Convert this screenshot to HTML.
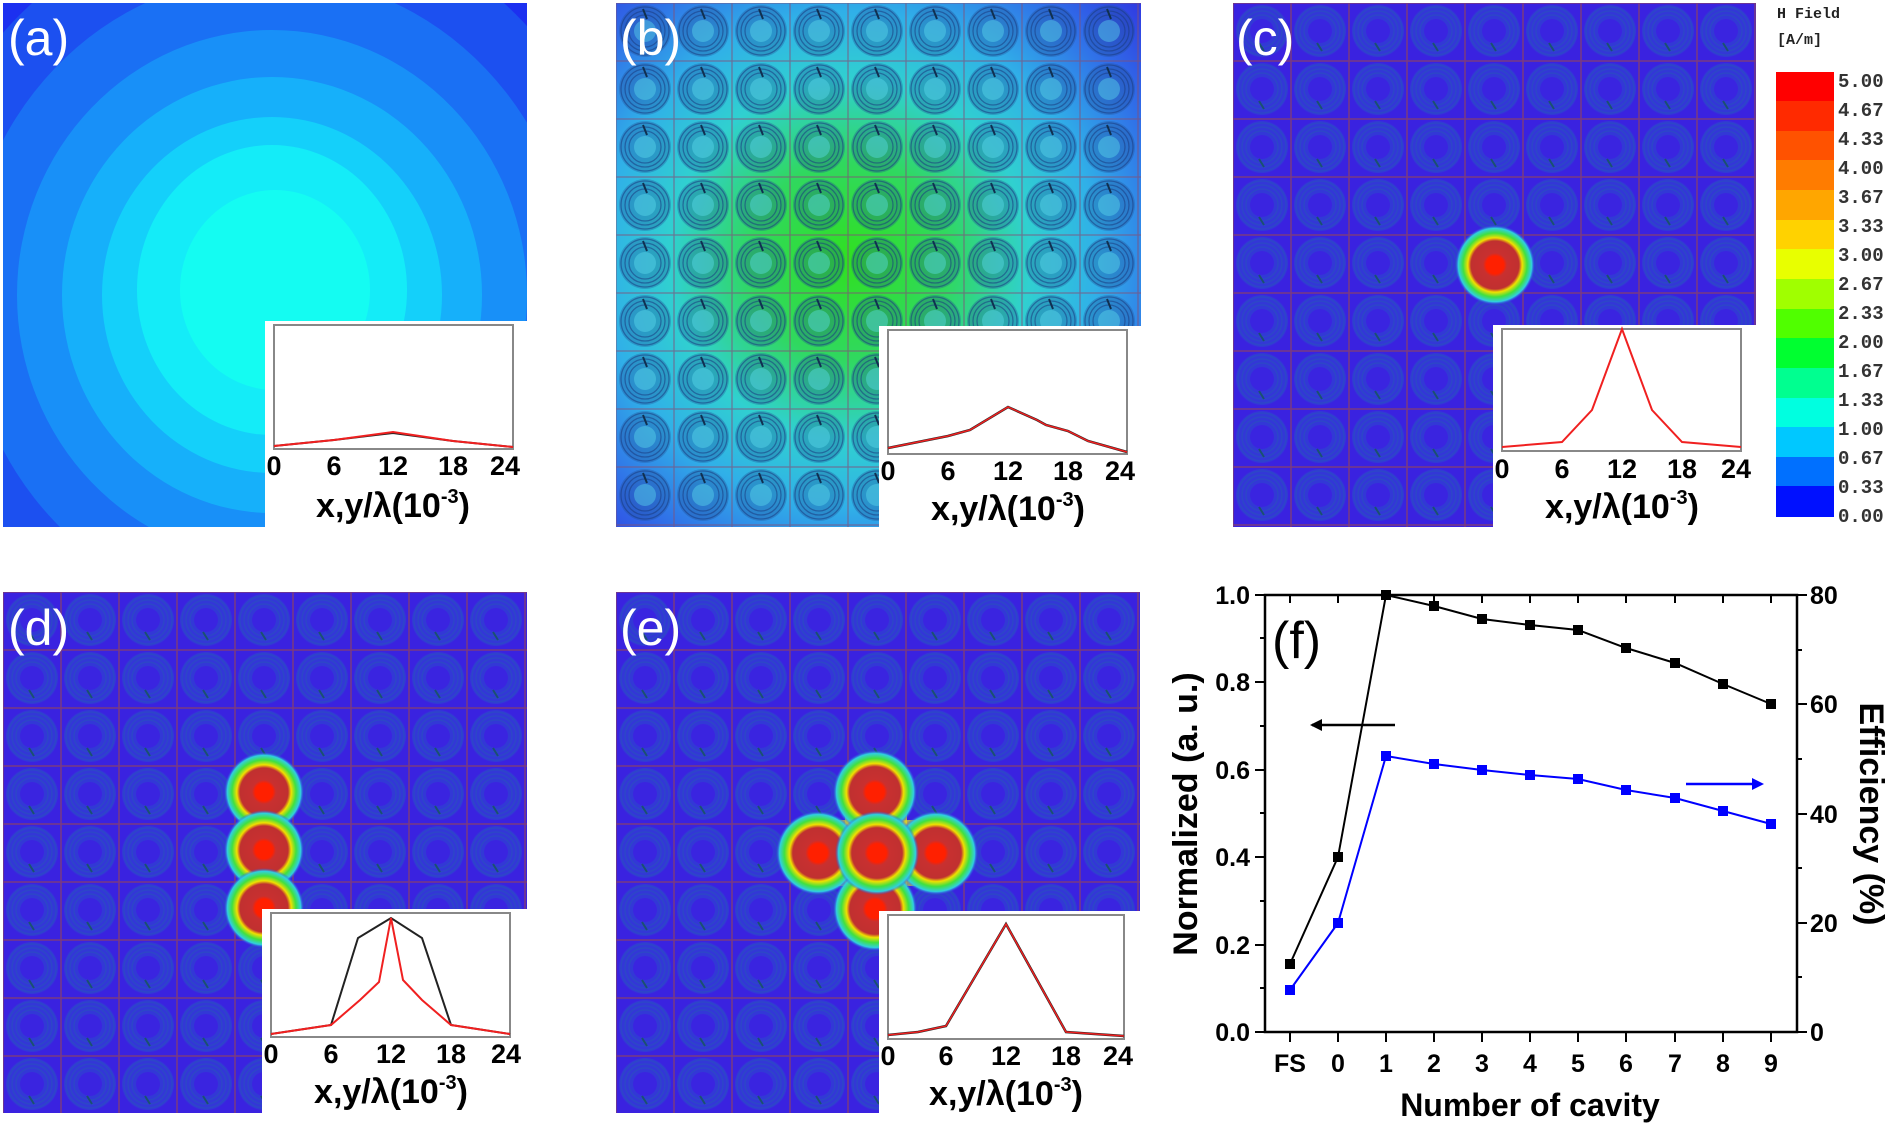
<!DOCTYPE html>
<html><head><meta charset="utf-8">
<style>html,body{margin:0;padding:0;background:#fff;}svg{display:block;}</style></head>
<body>
<svg width="1891" height="1126" viewBox="0 0 1891 1126" xmlns="http://www.w3.org/2000/svg" font-family="Liberation Sans, sans-serif">
<defs>
  <g id="cell">
    <rect width="58" height="58" fill="#3a22e0"/>
    <circle cx="29" cy="28" r="26" fill="#3238d6"/>
    <circle cx="29" cy="28" r="24" fill="none" stroke="#2c48c6" stroke-width="1.2"/>
    <circle cx="29" cy="28" r="20" fill="none" stroke="#2c48c6" stroke-width="1.2"/>
    <circle cx="29" cy="28" r="16" fill="none" stroke="#2c48c6" stroke-width="1.2"/>
    <circle cx="29" cy="28" r="12" fill="#3a24e0"/>
    <line x1="26" y1="40" x2="31" y2="48" stroke="#1a5070" stroke-width="2"/>
    <rect width="58" height="58" fill="none" stroke="#7a3a80" stroke-width="1.5"/>
  </g>
  <pattern id="pc" x="1233" y="3" width="58" height="58" patternUnits="userSpaceOnUse"><use href="#cell"/></pattern>
  <pattern id="pd" x="3" y="592" width="58" height="58" patternUnits="userSpaceOnUse"><use href="#cell"/></pattern>
  <pattern id="pe" x="616" y="592" width="58" height="58" patternUnits="userSpaceOnUse"><use href="#cell"/></pattern>
  <pattern id="pb" x="616" y="3" width="58" height="58" patternUnits="userSpaceOnUse">
    <circle cx="29" cy="28" r="26" fill="#1a4a90" opacity="0.3"/>
    <circle cx="29" cy="28" r="24" fill="none" stroke="#1a3a80" stroke-width="1.3" opacity="0.55"/>
    <circle cx="29" cy="28" r="20" fill="none" stroke="#1a3a80" stroke-width="1.3" opacity="0.55"/>
    <circle cx="29" cy="28" r="16" fill="none" stroke="#1a3a80" stroke-width="1.3" opacity="0.55"/>
    <circle cx="29" cy="28" r="11" fill="#60e0f0" opacity="0.4"/>
    <line x1="27" y1="6" x2="31" y2="16" stroke="#103050" stroke-width="2"/>
    <rect width="58" height="58" fill="none" stroke="#80507a" stroke-width="1.2" opacity="0.7"/>
  </pattern>
  <radialGradient id="gb" cx="850" cy="260" r="400" gradientUnits="userSpaceOnUse">
    <stop offset="0" stop-color="#30e020"/>
    <stop offset="0.25" stop-color="#30d860"/>
    <stop offset="0.45" stop-color="#30d0d0"/>
    <stop offset="0.62" stop-color="#30b0e8"/>
    <stop offset="0.8" stop-color="#3070e8"/>
    <stop offset="1" stop-color="#3030e0"/>
  </radialGradient>
  <radialGradient id="hot" cx="0.5" cy="0.5" r="0.5">
    <stop offset="0" stop-color="#ff2000"/>
    <stop offset="0.22" stop-color="#ff2000"/>
    <stop offset="0.3" stop-color="#c83030"/>
    <stop offset="0.6" stop-color="#c03030"/>
    <stop offset="0.68" stop-color="#f0e000"/>
    <stop offset="0.8" stop-color="#40e040"/>
    <stop offset="0.92" stop-color="#30d0e0"/>
    <stop offset="1" stop-color="#3040e0" stop-opacity="0"/>
  </radialGradient>
  <clipPath id="ca"><rect x="3" y="3" width="524" height="524"/></clipPath>
</defs>

<!-- (a) -->
<g clip-path="url(#ca)">
  <rect x="3" y="3" width="524" height="524" fill="#1a18f2"/>
  <ellipse cx="265" cy="285" rx="420" ry="440" fill="#1c30f0"/>
  <ellipse cx="268" cy="290" rx="360" ry="380" fill="#1c50f0"/>
  <ellipse cx="270" cy="295" rx="305" ry="320" fill="#1a70f4"/>
  <ellipse cx="272" cy="295" rx="255" ry="265" fill="#1890f8"/>
  <ellipse cx="272" cy="295" rx="210" ry="218" fill="#16b0fa"/>
  <ellipse cx="272" cy="295" rx="170" ry="178" fill="#14d0fa"/>
  <ellipse cx="272" cy="290" rx="135" ry="145" fill="#14ecf8"/>
  <ellipse cx="275" cy="290" rx="95" ry="100" fill="#14fcf2"/>
</g>
<!-- (b) -->
<rect x="616" y="3" width="525" height="524" fill="url(#gb)"/>
<rect x="616" y="3" width="525" height="524" fill="url(#pb)"/>
<!-- (c) -->
<rect x="1233" y="3" width="523" height="524" fill="url(#pc)"/>
<circle cx="1495" cy="265" r="40" fill="url(#hot)"/>
<!-- (d) -->
<rect x="3" y="592" width="524" height="521" fill="url(#pd)"/>
<rect x="240" y="790" width="48" height="120" fill="#d0e020" opacity="0.7"/>
<circle cx="264" cy="792" r="40" fill="url(#hot)"/>
<circle cx="264" cy="850" r="40" fill="url(#hot)"/>
<circle cx="264" cy="908" r="40" fill="url(#hot)"/>
<!-- (e) -->
<rect x="616" y="592" width="524" height="521" fill="url(#pe)"/>
<rect x="810" y="820" width="135" height="66" fill="#e0e020" opacity="0.7"/>
<rect x="845" y="785" width="62" height="135" fill="#e0e020" opacity="0.7"/>
<circle cx="875" cy="792" r="42" fill="url(#hot)"/>
<circle cx="818" cy="853" r="42" fill="url(#hot)"/>
<circle cx="936" cy="853" r="42" fill="url(#hot)"/>
<circle cx="875" cy="909" r="42" fill="url(#hot)"/>
<circle cx="877" cy="853" r="42" fill="url(#hot)"/>

<!-- panel labels -->
<g fill="#fff" font-size="50">
<text x="8" y="55">(a)</text>
<text x="620" y="55">(b)</text>
<text x="1236" y="55">(c)</text>
<text x="8" y="645">(d)</text>
<text x="620" y="645">(e)</text>
</g>

<!-- insets -->
<g font-weight="bold" fill="#000">
  <rect x="265" y="321" width="262" height="206" fill="#fff"/>
  <rect x="274" y="325" width="239" height="124" fill="none" stroke="#888" stroke-width="2"/>
  <polyline points="274,446 334,440 393,433 453,441 513,447" fill="none" stroke="#222" stroke-width="2"/>
  <polyline points="274,446 334,440 393,432 453,441 513,447" fill="none" stroke="#f02020" stroke-width="2"/>
  <g font-size="27" text-anchor="middle"><text x="274" y="475">0</text><text x="334" y="475">6</text><text x="393" y="475">12</text><text x="453" y="475">18</text><text x="505" y="475">24</text></g>
  <text x="393" y="517" font-size="34" text-anchor="middle">x,y/λ(10<tspan font-size="20" dy="-14">-3</tspan><tspan dy="14">)</tspan></text>
  <rect x="879" y="326" width="262" height="201" fill="#fff"/>
  <rect x="888" y="330" width="239" height="124" fill="none" stroke="#888" stroke-width="2"/>
  <polyline points="888,448 948,436 970,430 1008,407 1037,420 1046,425 1068,431 1088,441 1127,452" fill="none" stroke="#222" stroke-width="2.5"/>
  <polyline points="888,448 948,436 970,430 1008,407 1037,420 1046,425 1068,431 1088,441 1127,452" fill="none" stroke="#f02020" stroke-width="1.5"/>
  <g font-size="27" text-anchor="middle"><text x="888" y="480">0</text><text x="948" y="480">6</text><text x="1008" y="480">12</text><text x="1068" y="480">18</text><text x="1120" y="480">24</text></g>
  <text x="1008" y="520" font-size="34" text-anchor="middle">x,y/λ(10<tspan font-size="20" dy="-14">-3</tspan><tspan dy="14">)</tspan></text>
  <rect x="1493" y="325" width="263" height="202" fill="#fff"/>
  <rect x="1502" y="329" width="239" height="122" fill="none" stroke="#888" stroke-width="2"/>
  <polyline points="1502,447 1562,442 1592,410 1622,329 1652,410 1682,442 1741,447" fill="none" stroke="#f02020" stroke-width="2"/>
  <g font-size="27" text-anchor="middle"><text x="1502" y="478">0</text><text x="1562" y="478">6</text><text x="1622" y="478">12</text><text x="1682" y="478">18</text><text x="1736" y="478">24</text></g>
  <text x="1622" y="518" font-size="34" text-anchor="middle">x,y/λ(10<tspan font-size="20" dy="-14">-3</tspan><tspan dy="14">)</tspan></text>
  <rect x="262" y="909" width="265" height="204" fill="#fff"/>
  <rect x="271" y="913" width="239" height="124" fill="none" stroke="#888" stroke-width="2"/>
  <polyline points="271,1034 331,1025 358,938 391,918 422,938 451,1025 510,1034" fill="none" stroke="#222" stroke-width="2"/>
  <polyline points="271,1034 331,1025 360,1000 379,982 391,918 403,980 422,1000 451,1025 510,1034" fill="none" stroke="#f02020" stroke-width="2"/>
  <g font-size="27" text-anchor="middle"><text x="271" y="1063">0</text><text x="331" y="1063">6</text><text x="391" y="1063">12</text><text x="451" y="1063">18</text><text x="506" y="1063">24</text></g>
  <text x="391" y="1103" font-size="34" text-anchor="middle">x,y/λ(10<tspan font-size="20" dy="-14">-3</tspan><tspan dy="14">)</tspan></text>
  <rect x="879" y="911" width="262" height="202" fill="#fff"/>
  <rect x="888" y="915" width="236" height="124" fill="none" stroke="#888" stroke-width="2"/>
  <polyline points="888,1035 918,1032 946,1026 1006,924 1066,1032 1124,1036" fill="none" stroke="#222" stroke-width="2.5"/>
  <polyline points="888,1035 918,1032 946,1026 1006,924 1066,1032 1124,1036" fill="none" stroke="#f02020" stroke-width="1.5"/>
  <g font-size="27" text-anchor="middle"><text x="888" y="1065">0</text><text x="946" y="1065">6</text><text x="1006" y="1065">12</text><text x="1066" y="1065">18</text><text x="1118" y="1065">24</text></g>
  <text x="1006" y="1105" font-size="34" text-anchor="middle">x,y/λ(10<tspan font-size="20" dy="-14">-3</tspan><tspan dy="14">)</tspan></text>
</g>

<!-- colorbar -->
<g font-family="Liberation Mono, monospace" font-weight="bold" font-size="15" fill="#222">
<text x="1777" y="18">H Field</text><text x="1777" y="44">[A/m]</text>
</g>
<g>
<rect x="1776" y="72" width="58" height="30" fill="#ff0000"/>
<rect x="1776" y="101" width="58" height="30" fill="#ff2a00"/>
<rect x="1776" y="131" width="58" height="30" fill="#ff5200"/>
<rect x="1776" y="160" width="58" height="30" fill="#ff7c00"/>
<rect x="1776" y="190" width="58" height="30" fill="#ffa600"/>
<rect x="1776" y="220" width="58" height="30" fill="#ffd200"/>
<rect x="1776" y="249" width="58" height="30" fill="#e8ff00"/>
<rect x="1776" y="279" width="58" height="30" fill="#a0ff00"/>
<rect x="1776" y="309" width="58" height="30" fill="#50ff00"/>
<rect x="1776" y="338" width="58" height="30" fill="#00ff30"/>
<rect x="1776" y="368" width="58" height="30" fill="#00ff90"/>
<rect x="1776" y="398" width="58" height="30" fill="#00ffe0"/>
<rect x="1776" y="427" width="58" height="30" fill="#00c8ff"/>
<rect x="1776" y="457" width="58" height="30" fill="#0070ff"/>
<rect x="1776" y="486" width="58" height="31" fill="#0010ff"/>
</g>
<g font-family="Liberation Mono, monospace" font-size="19" font-weight="bold" fill="#333">
<text x="1838" y="87">5.00</text><text x="1838" y="116">4.67</text><text x="1838" y="145">4.33</text><text x="1838" y="174">4.00</text>
<text x="1838" y="203">3.67</text><text x="1838" y="232">3.33</text><text x="1838" y="261">3.00</text><text x="1838" y="290">2.67</text>
<text x="1838" y="319">2.33</text><text x="1838" y="348">2.00</text><text x="1838" y="377">1.67</text><text x="1838" y="406">1.33</text>
<text x="1838" y="435">1.00</text><text x="1838" y="464">0.67</text><text x="1838" y="493">0.33</text><text x="1838" y="522">0.00</text>
</g>

<!-- (f) plot -->
<rect x="1265" y="595" width="532" height="437" stroke="#000" stroke-width="2.5" fill="none"/>
<g stroke="#000" stroke-width="2">
<line x1="1265" y1="595" x2="1255" y2="595"/><line x1="1265" y1="682" x2="1255" y2="682"/><line x1="1265" y1="770" x2="1255" y2="770"/><line x1="1265" y1="857" x2="1255" y2="857"/><line x1="1265" y1="945" x2="1255" y2="945"/><line x1="1265" y1="1032" x2="1255" y2="1032"/>
<line x1="1265" y1="638" x2="1260" y2="638"/><line x1="1265" y1="726" x2="1260" y2="726"/><line x1="1265" y1="813" x2="1260" y2="813"/><line x1="1265" y1="901" x2="1260" y2="901"/><line x1="1265" y1="988" x2="1260" y2="988"/>
<line x1="1797" y1="595" x2="1807" y2="595"/><line x1="1797" y1="704" x2="1807" y2="704"/><line x1="1797" y1="814" x2="1807" y2="814"/><line x1="1797" y1="923" x2="1807" y2="923"/><line x1="1797" y1="1032" x2="1807" y2="1032"/>
<line x1="1797" y1="650" x2="1802" y2="650"/><line x1="1797" y1="759" x2="1802" y2="759"/><line x1="1797" y1="868" x2="1802" y2="868"/><line x1="1797" y1="977" x2="1802" y2="977"/>
<line x1="1290" y1="1032" x2="1290" y2="1042"/><line x1="1338" y1="1032" x2="1338" y2="1042"/><line x1="1386" y1="1032" x2="1386" y2="1042"/><line x1="1434" y1="1032" x2="1434" y2="1042"/><line x1="1482" y1="1032" x2="1482" y2="1042"/><line x1="1530" y1="1032" x2="1530" y2="1042"/><line x1="1578" y1="1032" x2="1578" y2="1042"/><line x1="1626" y1="1032" x2="1626" y2="1042"/><line x1="1675" y1="1032" x2="1675" y2="1042"/><line x1="1723" y1="1032" x2="1723" y2="1042"/><line x1="1771" y1="1032" x2="1771" y2="1042"/>
<line x1="1290" y1="595" x2="1290" y2="603"/><line x1="1338" y1="595" x2="1338" y2="603"/><line x1="1434" y1="595" x2="1434" y2="603"/><line x1="1482" y1="595" x2="1482" y2="603"/><line x1="1530" y1="595" x2="1530" y2="603"/><line x1="1578" y1="595" x2="1578" y2="603"/><line x1="1626" y1="595" x2="1626" y2="603"/><line x1="1675" y1="595" x2="1675" y2="603"/><line x1="1723" y1="595" x2="1723" y2="603"/><line x1="1771" y1="595" x2="1771" y2="603"/>
</g>
<g font-weight="bold" font-size="25" fill="#000" text-anchor="end">
<text x="1250" y="604">1.0</text><text x="1250" y="691">0.8</text><text x="1250" y="779">0.6</text><text x="1250" y="866">0.4</text><text x="1250" y="954">0.2</text><text x="1250" y="1041">0.0</text>
</g>
<g font-weight="bold" font-size="25" fill="#000">
<text x="1810" y="604">80</text><text x="1810" y="713">60</text><text x="1810" y="823">40</text><text x="1810" y="932">20</text><text x="1810" y="1041">0</text>
</g>
<g font-weight="bold" font-size="25" fill="#000" text-anchor="middle">
<text x="1290" y="1072">FS</text><text x="1338" y="1072">0</text><text x="1386" y="1072">1</text><text x="1434" y="1072">2</text><text x="1482" y="1072">3</text><text x="1530" y="1072">4</text><text x="1578" y="1072">5</text><text x="1626" y="1072">6</text><text x="1675" y="1072">7</text><text x="1723" y="1072">8</text><text x="1771" y="1072">9</text>
</g>
<text x="1530" y="1116" font-weight="bold" font-size="32" text-anchor="middle">Number of cavity</text>
<text transform="translate(1197,814) rotate(-90)" font-weight="bold" font-size="34" text-anchor="middle">Normalized (a. u.)</text>
<text transform="translate(1860,814) rotate(90)" font-weight="bold" font-size="34" text-anchor="middle">Efficiency (%)</text>
<text x="1272" y="658" font-size="52">(f)</text>

<polyline points="1290,964 1338,857 1386,595 1434,606 1482,619 1530,625 1578,630 1626,648 1675,663 1723,684 1771,704" fill="none" stroke="#000" stroke-width="2"/>
<g fill="#000">
<rect x="1285" y="959" width="10" height="10"/><rect x="1333" y="852" width="10" height="10"/><rect x="1381" y="590" width="10" height="10"/><rect x="1429" y="601" width="10" height="10"/><rect x="1477" y="614" width="10" height="10"/><rect x="1525" y="620" width="10" height="10"/><rect x="1573" y="625" width="10" height="10"/><rect x="1621" y="643" width="10" height="10"/><rect x="1670" y="658" width="10" height="10"/><rect x="1718" y="679" width="10" height="10"/><rect x="1766" y="699" width="10" height="10"/>
</g>
<polyline points="1290,990 1338,923 1386,756 1434,764 1482,770 1530,775 1578,779 1626,790 1675,798 1723,811 1771,824" fill="none" stroke="#0000ff" stroke-width="2"/>
<g fill="#0000ff">
<rect x="1285" y="985" width="10" height="10"/><rect x="1333" y="918" width="10" height="10"/><rect x="1381" y="751" width="10" height="10"/><rect x="1429" y="759" width="10" height="10"/><rect x="1477" y="765" width="10" height="10"/><rect x="1525" y="770" width="10" height="10"/><rect x="1573" y="774" width="10" height="10"/><rect x="1621" y="785" width="10" height="10"/><rect x="1670" y="793" width="10" height="10"/><rect x="1718" y="806" width="10" height="10"/><rect x="1766" y="819" width="10" height="10"/>
</g>
<line x1="1312" y1="725" x2="1395" y2="725" stroke="#000" stroke-width="2.5"/>
<polygon points="1310,725 1322,719 1322,731" fill="#000"/>
<line x1="1686" y1="784" x2="1761" y2="784" stroke="#0000ff" stroke-width="2.5"/>
<polygon points="1764,784 1752,778 1752,790" fill="#0000ff"/>
</svg>
</body></html>
